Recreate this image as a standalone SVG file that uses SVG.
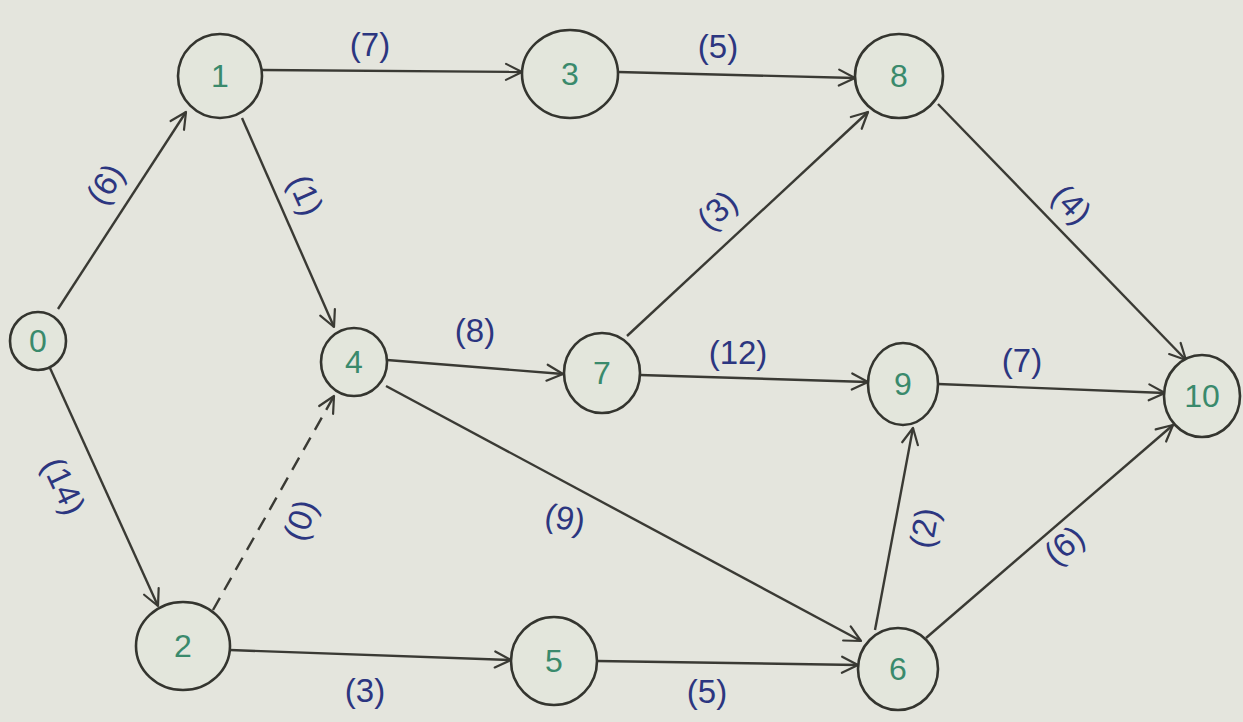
<svg xmlns="http://www.w3.org/2000/svg" width="1243" height="722" viewBox="0 0 1243 722">
<defs>
<marker id="arr" viewBox="0 0 20 20" refX="18" refY="10" markerWidth="20" markerHeight="20" markerUnits="userSpaceOnUse" orient="auto">
<polyline points="2,2 18,10 2,18" fill="none" stroke="#3a3a34" stroke-width="2.2" stroke-linejoin="round" stroke-linecap="round"/>
</marker>
<style>
.node ellipse{fill:#e3e6dc;stroke:#34352f;stroke-width:2.6}
.node text{font-family:"Liberation Sans",Arial,sans-serif;font-size:32px;fill:#3a8a6c;text-anchor:middle;dominant-baseline:central}
.edge{fill:none;stroke:#3a3a34;stroke-width:2.4;marker-end:url(#arr)}
.dash{stroke-dasharray:14 9}
.lbl{font-family:"Liberation Sans",Arial,sans-serif;font-size:33px;fill:#2c3680;text-anchor:middle;dominant-baseline:central}
</style>
</defs>
<rect width="1243" height="722" fill="#e4e5dd"/>
<g id="connectors">
<line class="edge" x1="58" y1="309" x2="186" y2="112"/>
<line class="edge" x1="262" y1="70" x2="522" y2="72"/>
<line class="edge" x1="618" y1="72" x2="855" y2="78"/>
<line class="edge" x1="242" y1="118" x2="334" y2="327"/>
<line class="edge" x1="387" y1="360" x2="563" y2="374"/>
<line class="edge" x1="627" y1="336" x2="868" y2="112"/>
<line class="edge" x1="640" y1="375" x2="868" y2="382"/>
<line class="edge" x1="938" y1="104" x2="1186" y2="360"/>
<line class="edge" x1="938" y1="384" x2="1165" y2="393"/>
<line class="edge" x1="50" y1="368" x2="158" y2="606"/>
<line class="edge dash" x1="213" y1="610" x2="334" y2="396"/>
<line class="edge" x1="230" y1="650" x2="511" y2="660"/>
<line class="edge" x1="597" y1="661" x2="858" y2="665"/>
<line class="edge" x1="386" y1="386" x2="861" y2="641"/>
<line class="edge" x1="875" y1="630" x2="913" y2="428"/>
<line class="edge" x1="926" y1="638" x2="1173" y2="425"/>
</g>
<g id="labels">
<text class="lbl" x="370" y="44">(7)</text>
<text class="lbl" x="718" y="46">(5)</text>
<text class="lbl" transform="translate(105,184) rotate(-57)">(6)</text>
<text class="lbl" transform="translate(306,195) rotate(66)">(1)</text>
<text class="lbl" transform="translate(717,210) rotate(-43)">(3)</text>
<text class="lbl" transform="translate(1072,204) rotate(46)">(4)</text>
<text class="lbl" x="475" y="330">(8)</text>
<text class="lbl" x="738" y="352">(12)</text>
<text class="lbl" x="1022" y="360">(7)</text>
<text class="lbl" transform="translate(64,486) rotate(65)">(14)</text>
<text class="lbl" transform="translate(300,520) rotate(-70)">(0)</text>
<text class="lbl" transform="translate(565,518) rotate(10)">(9)</text>
<text class="lbl" transform="translate(924,528) rotate(-80)">(2)</text>
<text class="lbl" transform="translate(1064,545) rotate(-40)">(6)</text>
<text class="lbl" x="365" y="690">(3)</text>
<text class="lbl" x="707" y="691">(5)</text>
</g>
<g id="node0" class="node"><ellipse cx="38" cy="341" rx="28" ry="29"/><text x="38" y="341">0</text></g>
<g id="node1" class="node"><ellipse cx="220" cy="76" rx="42" ry="42"/><text x="220" y="76">1</text></g>
<g id="node3" class="node"><ellipse cx="570" cy="74" rx="48" ry="44"/><text x="570" y="74">3</text></g>
<g id="node8" class="node"><ellipse cx="899" cy="76" rx="44" ry="42"/><text x="899" y="76">8</text></g>
<g id="node4" class="node"><ellipse cx="354" cy="362" rx="33" ry="34"/><text x="354" y="362">4</text></g>
<g id="node7" class="node"><ellipse cx="602" cy="373" rx="38" ry="40"/><text x="602" y="373">7</text></g>
<g id="node9" class="node"><ellipse cx="903" cy="384" rx="35" ry="41"/><text x="903" y="384">9</text></g>
<g id="node10" class="node"><ellipse cx="1202" cy="396" rx="38" ry="41"/><text x="1202" y="396">10</text></g>
<g id="node2" class="node"><ellipse cx="183" cy="646" rx="47" ry="44"/><text x="183" y="646">2</text></g>
<g id="node5" class="node"><ellipse cx="554" cy="661" rx="43" ry="44"/><text x="554" y="661">5</text></g>
<g id="node6" class="node"><ellipse cx="898" cy="669" rx="40" ry="41"/><text x="898" y="669">6</text></g>
</svg>
